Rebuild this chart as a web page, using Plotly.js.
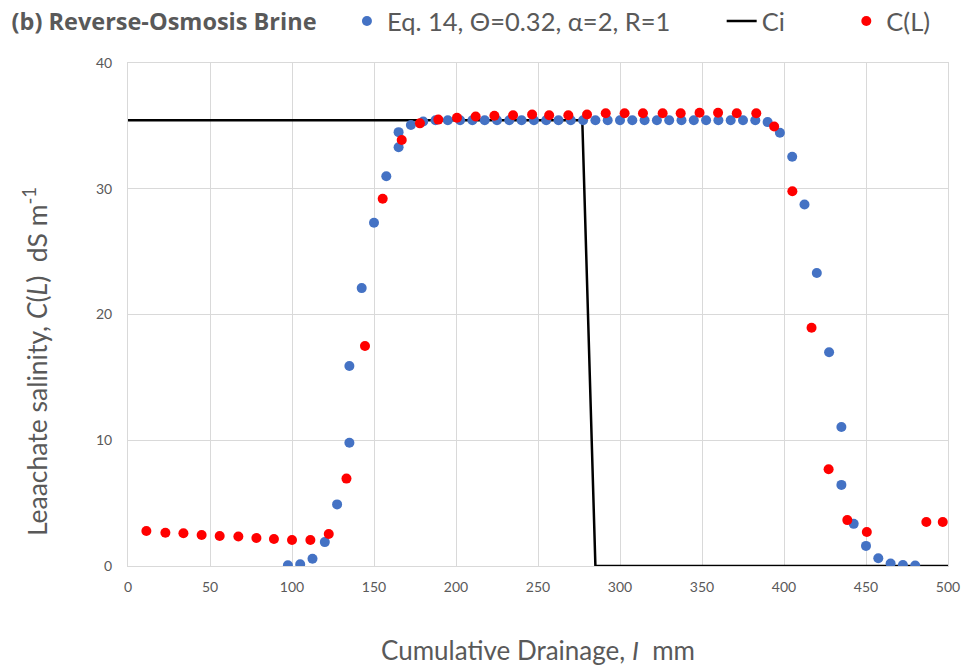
<!DOCTYPE html>
<html>
<head>
<meta charset="utf-8">
<script src="https://cdn.plot.ly/plotly-3.0.1.min.js"></script>
<style>
  html, body { margin: 0; padding: 0; background: #ffffff; }
  #chart { width: 966px; height: 668px; }
</style>
</head>
<body>
<div id="chart"></div>
<script>
// Model curve (Eq. 14): cumulative drainage (mm) and leachate salinity (dS/m)
const modelDrainage = [
  97.5, 105, 112.5, 120, 127.5, 135, 135, 142.5, 150, 157.5, 165, 165, 172.5, 180,
  187.5, 195, 202.5, 210, 217.5, 225, 232.5, 240, 247.5, 255, 262.5, 270, 277.5, 285,
  292.5, 300, 307.5, 315, 322.5, 330, 337.5, 345, 352.5, 360, 367.5, 375, 382.5,
  390, 397.5, 405, 412.5, 420, 427.5, 435, 435, 442.5, 450, 457.5, 465, 472.5, 480
];
const modelSalinity = [
  0.05, 0.13, 0.58, 1.9, 4.9, 9.8, 15.9, 22.1, 27.3, 31.0, 33.3, 34.5, 35.07, 35.35,
  35.45, 35.45, 35.45, 35.45, 35.45, 35.45, 35.45, 35.45, 35.45, 35.45, 35.45, 35.45, 35.45, 35.45,
  35.45, 35.45, 35.45, 35.45, 35.45, 35.45, 35.45, 35.45, 35.45, 35.45, 35.45, 35.45, 35.45,
  35.3, 34.45, 32.55, 28.75, 23.3, 17.0, 11.05, 6.45, 3.35, 1.6, 0.62, 0.2, 0.07, 0.03
];

// Applied brine concentration Ci (step input)
const inputDrainage = [0, 277, 285, 500];
const inputSalinity = [35.45, 35.45, 0, 0];

// Measured leachate salinity C(L)
const measuredDrainage = [
  11.2, 22.8, 33.8, 44.9, 55.9, 67.3, 78.3, 89.0, 100.0, 111.2, 122.4, 133.2, 144.5,
  155.3, 166.9, 178.0, 189.2, 200.6, 212.0, 223.4, 234.8, 246.4, 256.8, 268.5, 279.9,
  291.3, 302.8, 314.0, 326.0, 337.0, 348.5, 359.8, 371.2, 383.1, 394.0, 405.1, 416.8,
  427.2, 438.6, 450.5, 486.8, 496.8
];
const measuredSalinity = [
  2.78, 2.65, 2.6, 2.47, 2.39, 2.34, 2.23, 2.15, 2.07, 2.07, 2.55, 6.95, 17.5,
  29.2, 33.88, 35.2, 35.5, 35.65, 35.75, 35.8, 35.85, 35.9, 35.85, 35.85, 35.9,
  36.0, 36.0, 36.0, 36.0, 36.0, 36.05, 36.05, 36.0, 36.0, 34.95, 29.8, 18.95,
  7.7, 3.65, 2.7, 3.5, 3.5
];

const xTicks = [0, 50, 100, 150, 200, 250, 300, 350, 400, 450, 500];
const yTicks = [0, 10, 20, 30, 40];

const FONT = 'Lato, sans-serif';
const GREY = '#595959';
const GRID = '#d9d9d9';

const traces = [
  {
    x: inputDrainage, y: inputSalinity,
    type: 'scatter', mode: 'lines', name: 'Ci',
    line: { color: '#000000', width: 2.5 },
    legend: 'legend2'
  },
  {
    x: modelDrainage, y: modelSalinity,
    type: 'scatter', mode: 'markers',
    name: 'Eq. 14, \u0398=0.32, \u03b1=2, R=1',
    marker: { color: '#4472c4', size: 10 },
    legend: 'legend'
  },
  {
    x: measuredDrainage, y: measuredSalinity,
    type: 'scatter', mode: 'markers', name: 'C(L)',
    marker: { color: '#ff0000', size: 10 },
    legend: 'legend3'
  }
];

// three single-entry legends laid out along the top row
const legendBase = {
  orientation: 'h', xanchor: 'left', yanchor: 'middle',
  yref: 'container', y: 0.968,
  bgcolor: 'rgba(0,0,0,0)', borderwidth: 0,
  font: { family: FONT, size: 25.5, color: GREY }
};

const layout = {
  width: 966, height: 668,
  margin: { l: 128, r: 18, t: 63, b: 102, pad: 0 },
  paper_bgcolor: '#ffffff', plot_bgcolor: '#ffffff',
  font: { family: FONT, color: GREY },
  title: {
    text: '(b) Reverse-Osmosis Brine',
    font: { family: '"Open Sans", sans-serif', size: 23.5, weight: 700, color: GREY },
    x: 0.012, xanchor: 'left', xref: 'container',
    y: 0.968, yanchor: 'middle', yref: 'container'
  },
  showlegend: true,
  legend: Object.assign({}, legendBase, { x: 0.267 }),
  legend2: Object.assign({}, legendBase, { x: 0.724 }),
  legend3: Object.assign({}, legendBase, { x: 0.876 }),
  xaxis: {
    range: [0, 500], tickvals: xTicks, ticktext: xTicks.map(String),
    showgrid: true, gridcolor: GRID, gridwidth: 1,
    zeroline: false, showline: true, linecolor: GRID, linewidth: 1, mirror: true,
    ticks: '', ticklabelstandoff: 8, tickfont: { family: FONT, size: 14, color: GREY },
    title: {
      text: 'Cumulative Drainage, <i>I</i>\u00a0 mm',
      font: { family: FONT, size: 26, color: GREY },
      standoff: 48
    }
  },
  yaxis: {
    range: [0, 40], tickvals: yTicks, ticktext: yTicks.map(String),
    showgrid: true, gridcolor: GRID, gridwidth: 1,
    zeroline: false, showline: true, linecolor: GRID, linewidth: 1, mirror: true,
    ticks: '', ticklabelstandoff: 12, tickfont: { family: FONT, size: 14, color: GREY }
  },
  annotations: [
    {
      // y-axis title, set a little below the middle of the axis
      text: 'Leaachate salinity, <i>C</i>(<i>L</i>)\u00a0 dS m<sup>-1</sup>',
      font: { family: FONT, size: 26.5, color: GREY },
      textangle: -90, showarrow: false,
      xref: 'paper', yref: 'paper',
      x: -0.113, y: 0.406, xanchor: 'center', yanchor: 'middle'
    }
  ]
};

Plotly.newPlot('chart', traces, layout, { displayModeBar: false, staticPlot: true });
</script>
</body>
</html>
